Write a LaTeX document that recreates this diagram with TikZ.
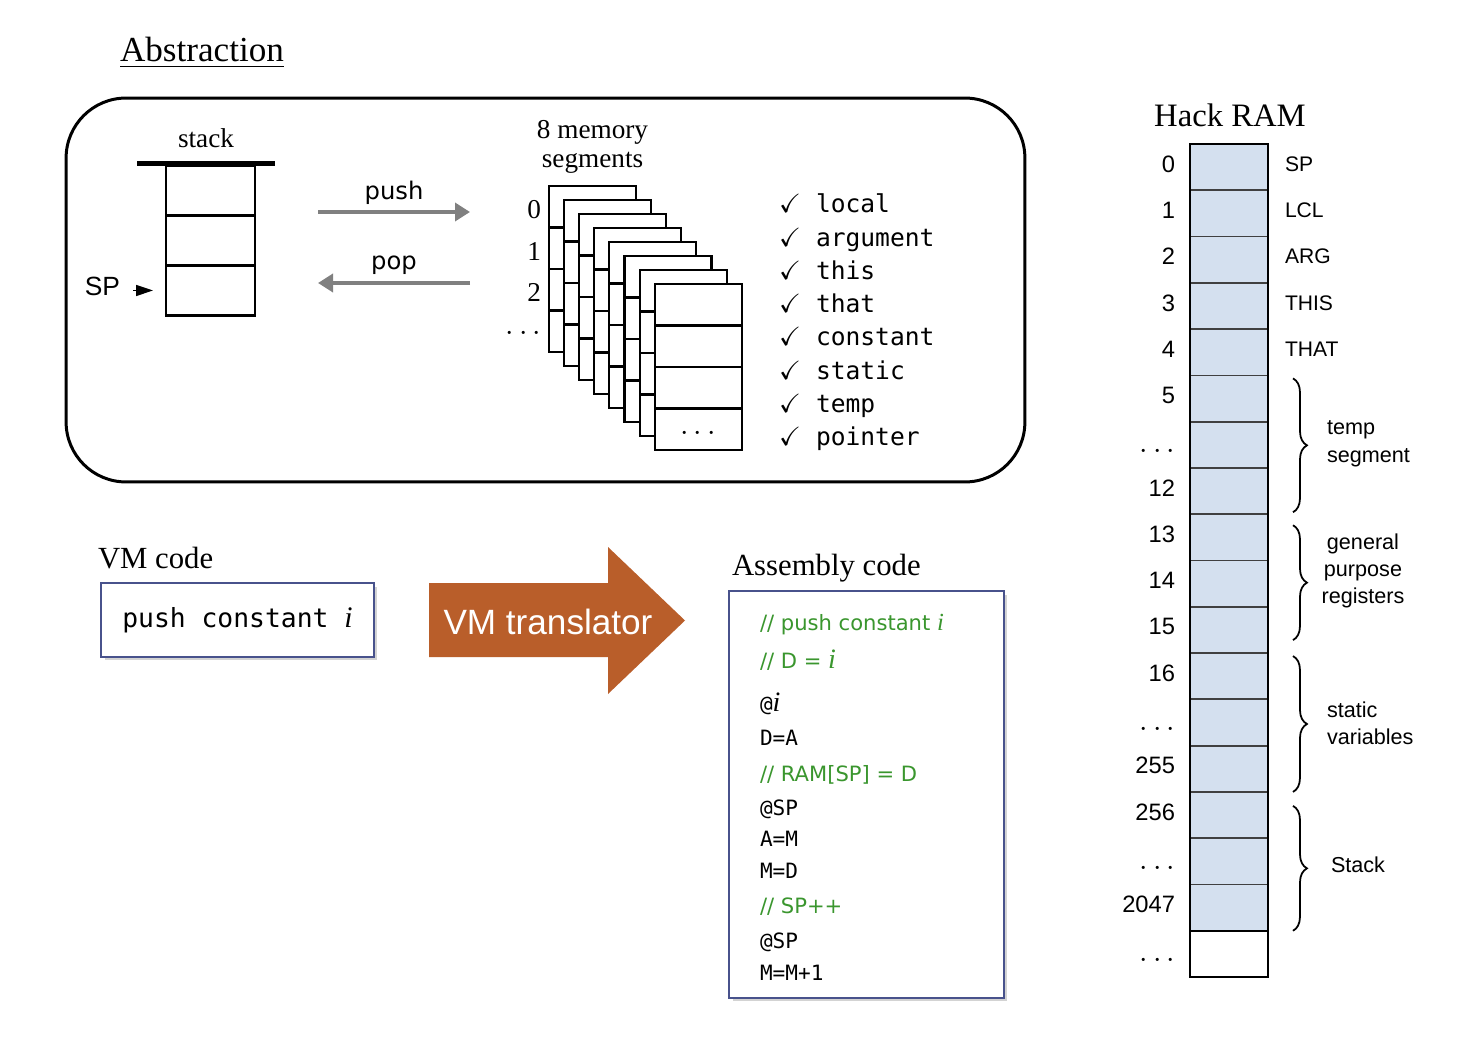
\documentclass[tikz,border=0pt]{standalone}
\usepackage{amssymb}
\usepackage{fontspec}
\setmainfont{Liberation Serif}
\setsansfont{Liberation Sans}
\setmonofont{DejaVu Sans Mono}
\newfontfamily\vsans{DejaVu Sans}
\usetikzlibrary{arrows.meta,positioning,calc,shadows,decorations.pathreplacing}

\definecolor{ramblue}{RGB}{212,224,239}
\definecolor{frameblue}{RGB}{72,82,140}
\definecolor{vmorange}{RGB}{185,94,42}
\definecolor{cmtgreen}{RGB}{58,150,46}
\definecolor{arrowgray}{RGB}{128,128,128}

\newcommand{\bigdots}{{\fontsize{19}{20}\selectfont$\cdots$}}

\begin{document}
\begin{tikzpicture}[x=0.02cm, y=-0.02cm,
    every node/.style={inner sep=0pt, outer sep=0pt},
    stkcell/.style={draw, line width=1.4pt, minimum width=1.78cm, minimum height=1cm},
    page/.style={draw, fill=white, line width=1.2pt, minimum width=1.74cm, minimum height=3.32cm},
    grayarrow/.style={draw=arrowgray, line width=2pt, -{Triangle[length=0.3cm,width=0.36cm]}},
    seglist/.style={anchor=base west, font=\ttfamily\fontsize{14}{16}\selectfont},
    codebox/.style={draw=frameblue, line width=0.9pt, fill=white,
      drop shadow={shadow xshift=0.07cm, shadow yshift=-0.07cm, opacity=0.35}},
    asm/.style={anchor=base west, font=\ttfamily\fontsize{12}{14}\selectfont},
    cmt/.style={anchor=base west, font=\vsans\fontsize{12}{14}\selectfont, text=cmtgreen},
    ramcell/.style={draw=black!75, line width=1pt, fill=ramblue, minimum width=1.56cm, minimum height=0.9256cm},
    ramnum/.style={anchor=east, font=\sffamily\fontsize{13.5}{16}\selectfont},
    ramname/.style={anchor=west, font=\sffamily\fontsize{12}{14}\selectfont},
    rambrace/.style={decorate, decoration={brace, amplitude=0.28cm}, line width=1pt},
    bracetext/.style={font=\sffamily\fontsize{12.3}{15.5}\selectfont}
  ]
  \useasboundingbox (0,0) rectangle (1458,1044);

  % abstraction frame
  \node[font=\fontsize{20}{24}\selectfont] (abstitle) at (202,53) {\underline{Abstraction}};
  \node[draw, line width=1.7pt, rounded corners=1.2cm, minimum width=19.18cm, minimum height=7.68cm] (absframe) at (545.5,290) {};

  % stack
  \node[stkcell] (s1) at (210.5,190.5) {};
  \node[stkcell, below=0pt of s1] (s2) {};
  \node[stkcell, below=0pt of s2] (s3) {};
  \node[fill, minimum width=2.76cm, minimum height=0.1cm, above=0pt of s1, xshift=-0.09cm] (bar) {};
  \node[font=\fontsize{15.5}{18}\selectfont, above=0.26cm of bar] (stklbl) {stack};
  \node[font=\sffamily\fontsize{15}{18}\selectfont, anchor=base east] (spl) at (120,296) {SP};
  \draw[line width=0.9pt, -{Triangle[length=0.34cm,width=0.22cm]}] ($(spl.east |- s3.west)+(13,0)$) -- ($(s3.west)+(-13,0)$);

  % push / pop
  \coordinate (pushA) at (318,212);
  \coordinate (pushB) at (470,212);
  \coordinate (popA) at (470,283);
  \coordinate (popB) at (318,283);
  \draw[grayarrow] (pushA) -- (pushB) node[midway, above=0.14cm, font=\vsans\fontsize{13.8}{16}\selectfont] (pushl) {push};
  \draw[grayarrow] (popA) -- (popB) node[midway, above=0.16cm, font=\vsans\fontsize{13.8}{16}\selectfont] (popl) {pop};

  % memory segments
  \foreach \k in {0,...,7}{
    \node[page] (seg\k) at ({592.5+15.1*\k},{269+14*\k}) {};
    \foreach \f in {0.25,0.5,0.75}
      \draw[line width=1.2pt] ($(seg\k.north west)!\f!(seg\k.south west)$) -- ($(seg\k.north east)!\f!(seg\k.south east)$);
  }
  \node[font=\fontsize{15.5}{16.5}\selectfont, align=center, above=0.26cm of seg0] (seglbl) {8 memory\\segments};
  \foreach \l/\f [count=\i] in {0/0.125, 1/0.375, 2/0.625, \bigdots/0.875}
    \node[anchor=east, font=\fontsize{15.5}{18}\selectfont] (segno\i) at ($(seg0.north west)!\f!(seg0.south west)+(-8,3)$) {\l};
  \node (segdots) at ($(seg7.south)+(0,-16)$) {\bigdots};

  \foreach \w [count=\i from 0] in {local,argument,this,that,constant,static,temp,pointer}{
    \node[anchor=base, font=\fontsize{15}{16}\selectfont] (chk\i) at (790,{213+33.2*\i}) {$\checkmark$};
    \node[seglist] (sn\i) at (816,{213+33.2*\i}) {\w};
  }

  % VM code
  \node[anchor=base west, font=\fontsize{17.5}{20}\selectfont] (vmlbl) at (98,568) {VM code};
  \node[codebox, minimum width=5.46cm, minimum height=1.48cm] (vmbox) at (237.5,620)
    {\ttfamily\fontsize{15}{16}\selectfont push constant \textrm{\fontsize{17}{18}\selectfont\textit{i}}};

  % translator arrow
  \fill[vmorange] (429,583) -- (608,583) -- (608,547) -- (685,620.5) -- (608,694) -- (608,657) -- (429,657) -- cycle;
  \node[text=white, font=\sffamily\fontsize{20}{24}\selectfont] (vmtr) at (548,622) {VM translator};

  % assembly code
  \node[anchor=base west, font=\fontsize{17.5}{20}\selectfont] (asmlbl) at (732,575) {Assembly code};
  \node[codebox, minimum width=5.5cm, minimum height=8.14cm] (asmbox) at (866.5,794.5) {};
  \node[cmt] (a1) at (760,630) {// push constant \textrm{\fontsize{14}{16}\selectfont\textit{i}}};
  \node[cmt] (a2) at (760,668) {// D = \textrm{\fontsize{16}{16}\selectfont\textit{i}}};
  \node[asm] (a3) at (760,711) {@\textrm{\fontsize{16}{16}\selectfont\textit{i}}};
  \node[asm] (a4) at (760,745) {D=A};
  \node[cmt] (a5) at (760,781) {// RAM[SP] = D};
  \node[asm] (a6) at (760,815) {@SP};
  \node[asm] (a7) at (760,846) {A=M};
  \node[asm] (a8) at (760,878) {M=D};
  \node[cmt] (a9) at (760,913) {// SP++};
  \node[asm] (a10) at (760,948) {@SP};
  \node[asm] (a11) at (760,980) {M=M+1};

  % Hack RAM
  \node[anchor=base, font=\fontsize{18.6}{22}\selectfont] (ramlbl) at (1230,127) {Hack RAM};
  \foreach \i in {0,...,16}
    \node[ramcell] (r\i) at (1229,{144+46.28*(\i+0.5)}) {};
  \node[ramcell, draw=black, fill=white] (r17) at (1229,{144+46.28*17.5}) {};
  \draw[line width=1.3pt] (r0.north west) rectangle (r17.south east);
  \foreach \l/\dy [count=\i from 0] in {0/-3,1/-3,2/-3,3/-3,4/-3,5/-3,\bigdots/7,12/-3,13/-3,14/-3,15/-3,16/-3,
      \bigdots/7,255/-3,256/-3,\bigdots/7,2047/-3,\bigdots/7}
    \node[ramnum] (rn\i) at ($(r\i.west)+(-15,\dy)$) {\l};
  \foreach \n [count=\i from 0] in {SP,LCL,ARG,THIS,THAT}
    \node[ramname] (rl\i) at ($(r\i.east)+(17,-3)$) {\n};

  \draw[rambrace] ($(r5.north east)+(25,3)$) -- ($(r7.south east)+(25,-2)$);
  \draw[rambrace] ($(r8.north east)+(25,11)$) -- ($(r10.south east)+(25,-13)$);
  \draw[rambrace] ($(r11.north east)+(25,3)$) -- ($(r13.south east)+(25,0)$);
  \draw[rambrace] ($(r14.north east)+(25,14)$) -- ($(r16.south east)+(25,0)$);
  \node[bracetext, anchor=west, align=left] (bt1) at ($(r6.east)+(59,-1)$) {temp\\segment};
  \node[bracetext, align=center] (bt2) at ($(r9.east)+(95,-13)$) {general\\purpose\\registers};
  \node[bracetext, anchor=west, align=left] (bt3) at ($(r12.east)+(59,1)$) {static\\variables};
  \node[bracetext, anchor=west] (bt4) at ($(r15.east)+(63,3)$) {Stack};
\end{tikzpicture}
\end{document}
